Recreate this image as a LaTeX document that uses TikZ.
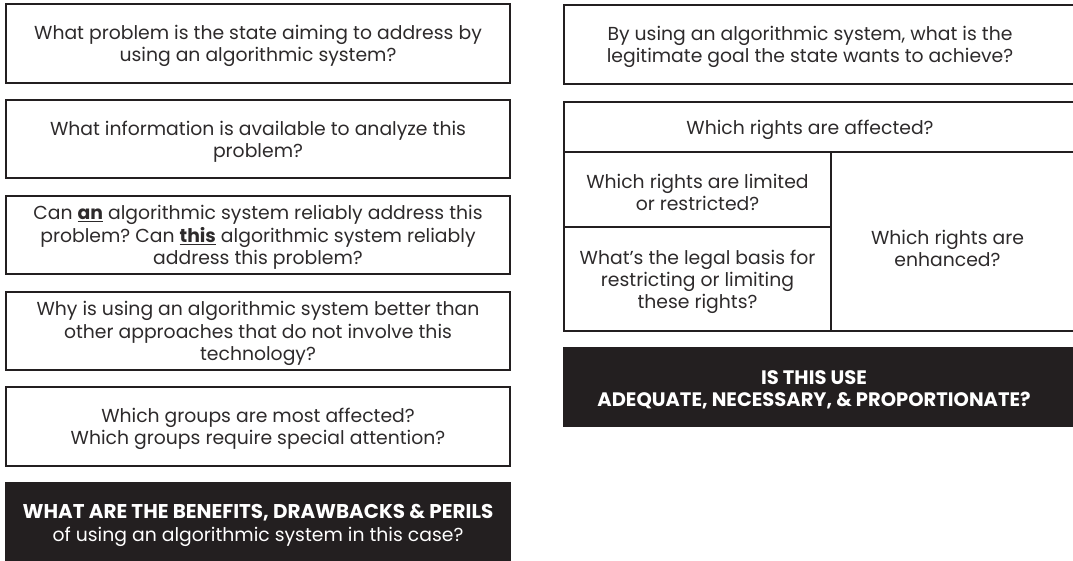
\documentclass[tikz,border=0pt]{standalone}
\usepackage{fontspec}
\setmainfont{Poppins}
\frenchspacing
\definecolor{ink}{RGB}{35,31,32}
\definecolor{txt}{RGB}{45,42,43}
\newcommand{\ulbold}[1]{\underline{\textbf{#1}}}
\tikzset{
	qbox/.style={draw=ink, line width=2.6pt},
	darkbox/.style={fill=ink},
	qtext/.style={text=txt, align=center, yshift=-2.5pt, font=\fontsize{18.8}{22.3}\selectfont},
	darktext/.style={text=white, align=center, yshift=-2.5pt, font=\fontsize{18.8}{22.3}\selectfont}
}

\begin{document}
\begin{tikzpicture}[x=1pt, y=-1pt]
			%%%%% START %%%%%
			
			\useasboundingbox (0, 0) rectangle (1073, 560);
			
			% left column
			\draw[qbox] (6, 4) rectangle (510, 83);
			\node[qtext] (problem) at (258, 43.5) {What problem is the state aiming to address by\\using an algorithmic system?};
			
			\draw[qbox] (6, 100) rectangle (510, 178);
			\node[qtext] (information) at (258, 139) {What information is available to analyze this\\problem?};
			
			\draw[qbox] (6, 196) rectangle (510, 274);
			\node[qtext] (reliably) at (258, 235) {Can \ulbold{an} algorithmic system reliably address this\\problem? Can \ulbold{this} algorithmic system reliably\\address this problem?};
			
			\draw[qbox] (6, 292) rectangle (510, 370);
			\node[qtext] (better) at (258, 331) {Why is using an algorithmic system better than\\other approaches that do not involve this\\technology?};
			
			\draw[qbox] (6, 387) rectangle (510, 466);
			\node[qtext] (groups) at (258, 426.5) {Which groups are most affected?\\Which groups require special attention?};
			
			\fill[darkbox] (5, 482) rectangle (511, 575);
			\node[darktext] (benefits) at (258, 523) {{\fontsize{19.9}{22.3}\selectfont\bfseries WHAT ARE THE BENEFITS, DRAWBACKS \& PERILS}\\of using an algorithmic system in this case?};
			
			% right column
			\draw[qbox] (564, 5) rectangle (1090, 84);
			\node[qtext] (goal) at (810, 44.5) {By using an algorithmic system, what is the\\legitimate goal the state wants to achieve?};
			
			\draw[qbox] (564, 102) rectangle (1090, 331);
			\draw[qbox] (564, 152) -- (1090, 152);
			\draw[qbox] (831, 152) -- (831, 331);
			\draw[qbox] (564, 227) -- (831, 227);
			\node[qtext] (affected) at (810, 127) {Which rights are affected?};
			\node[qtext] (limited) at (697.5, 190) {Which rights are limited\\or restricted?};
			\node[qtext] (legal) at (697.5, 279.5) {What’s the legal basis for\\restricting or limiting\\these rights?};
			\node[qtext] (enhanced) at (947.5, 246) {Which rights are\\enhanced?};
			
			\fill[darkbox] (563, 347) rectangle (1090, 427);
			\node[darktext, font=\fontsize{19.5}{22.3}\selectfont\bfseries] (adequate) at (814, 387) {IS THIS USE\\ADEQUATE, NECESSARY, \& PROPORTIONATE?};
			
			%%%%% END %%%%%
\end{tikzpicture}
\end{document}
